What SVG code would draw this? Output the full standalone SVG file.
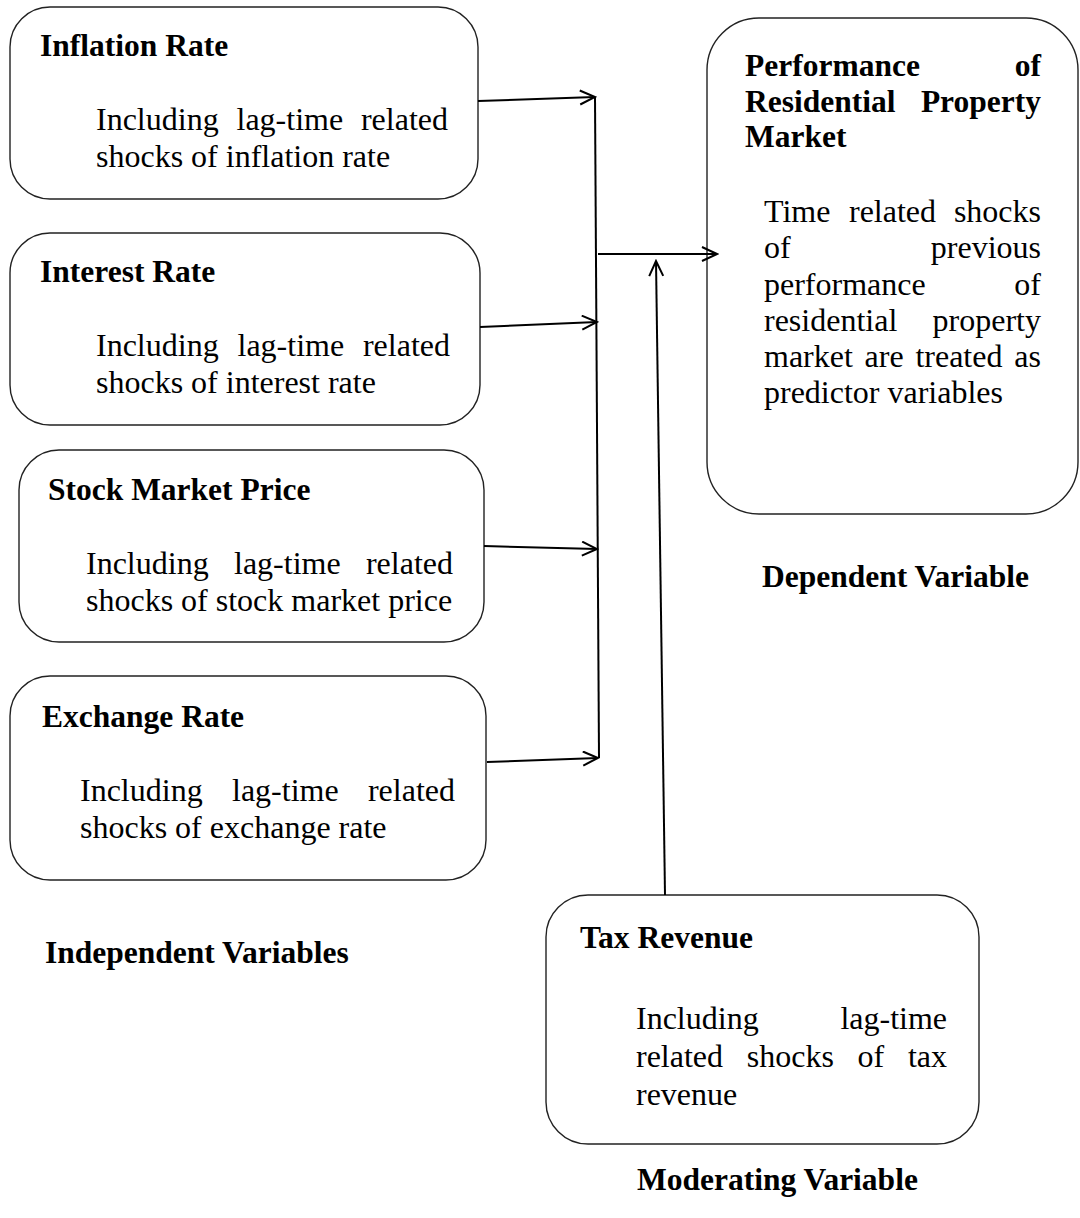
<svg xmlns="http://www.w3.org/2000/svg" width="1080" height="1218" viewBox="0 0 1080 1218">
<defs>
<style>
.box{fill:#fff;stroke:#222;stroke-width:1.4}
.t{font-family:"Liberation Serif","Times New Roman",serif;font-size:31.5px;font-weight:bold;fill:#000}
.b{font-family:"Liberation Serif","Times New Roman",serif;font-size:32px;fill:#000}
.c{fill:none;stroke:#000;stroke-width:2}
</style>
<marker id="ah" markerWidth="18" markerHeight="18" refX="16" refY="8" orient="auto" markerUnits="userSpaceOnUse">
<path d="M1,1 L16,8 L1,15" fill="none" stroke="#000" stroke-width="2"/>
</marker>
</defs>
<rect width="1080" height="1218" fill="#fff"/>

<g id="inflation">
<rect class="box" x="10" y="7" width="468" height="192" rx="40"/>
<text class="t" x="40" y="56">Inflation Rate</text>
<text class="b" y="130"><tspan x="96">Including</tspan><tspan x="236.5">lag-time</tspan><tspan x="448" text-anchor="end">related</tspan></text>
<text class="b" x="96" y="167">shocks of inflation rate</text>
</g>

<g id="interest">
<rect class="box" x="10" y="233" width="470" height="192" rx="40"/>
<text class="t" x="40" y="282">Interest Rate</text>
<text class="b" y="356"><tspan x="96">Including</tspan><tspan x="237.5">lag-time</tspan><tspan x="450" text-anchor="end">related</tspan></text>
<text class="b" x="96" y="393">shocks of interest rate</text>
</g>

<g id="stock">
<rect class="box" x="19" y="450" width="465" height="192" rx="40"/>
<text class="t" x="48" y="500">Stock Market Price</text>
<text class="b" y="574"><tspan x="86">Including</tspan><tspan x="234">lag-time</tspan><tspan x="453" text-anchor="end">related</tspan></text>
<text class="b" x="86" y="611">shocks of stock market price</text>
</g>

<g id="exchange">
<rect class="box" x="10" y="676" width="476" height="204" rx="40"/>
<text class="t" x="42" y="727">Exchange Rate</text>
<text class="b" y="801"><tspan x="80">Including</tspan><tspan x="232">lag-time</tspan><tspan x="455" text-anchor="end">related</tspan></text>
<text class="b" x="80" y="838">shocks of exchange rate</text>
</g>

<g id="performance">
<rect class="box" x="707" y="18" width="371" height="496" rx="52"/>
<text class="t" y="76"><tspan x="745">Performance</tspan><tspan x="1041" text-anchor="end">of</tspan></text>
<text class="t" y="112"><tspan x="745">Residential</tspan><tspan x="1041" text-anchor="end">Property</tspan></text>
<text class="t" x="745" y="147">Market</text>
<text class="b" y="222"><tspan x="764">Time</tspan><tspan x="849">related</tspan><tspan x="1041" text-anchor="end">shocks</tspan></text>
<text class="b" y="258"><tspan x="764">of</tspan><tspan x="1041" text-anchor="end">previous</tspan></text>
<text class="b" y="295"><tspan x="764">performance</tspan><tspan x="1041" text-anchor="end">of</tspan></text>
<text class="b" y="331"><tspan x="764">residential</tspan><tspan x="1041" text-anchor="end">property</tspan></text>
<text class="b" y="367"><tspan x="764">market</tspan><tspan x="864.6">are</tspan><tspan x="915.4">treated</tspan><tspan x="1041" text-anchor="end">as</tspan></text>
<text class="b" x="764" y="403">predictor variables</text>
</g>

<g id="tax">
<rect class="box" x="546" y="895" width="433" height="249" rx="42"/>
<text class="t" x="580" y="948">Tax Revenue</text>
<text class="b" y="1029"><tspan x="636">Including</tspan><tspan x="947" text-anchor="end">lag-time</tspan></text>
<text class="b" y="1067"><tspan x="636">related</tspan><tspan x="746.8">shocks</tspan><tspan x="857.6">of</tspan><tspan x="947" text-anchor="end">tax</tspan></text>
<text class="b" x="636" y="1105">revenue</text>
</g>

<g id="labels">
<text class="t" x="762" y="587">Dependent Variable</text>
<text class="t" x="45" y="963">Independent Variables</text>
<text class="t" x="637" y="1190">Moderating Variable</text>
</g>

<g id="connectors">
<line class="c" x1="478" y1="101" x2="595" y2="97" marker-end="url(#ah)"/>
<line class="c" x1="480" y1="327" x2="597" y2="322" marker-end="url(#ah)"/>
<line class="c" x1="484" y1="546" x2="597" y2="549" marker-end="url(#ah)"/>
<line class="c" x1="487" y1="762" x2="598" y2="758" marker-end="url(#ah)"/>
<line class="c" x1="595" y1="97" x2="599" y2="758"/>
<line class="c" x1="598" y1="254" x2="717" y2="254" marker-end="url(#ah)"/>
<line class="c" x1="665" y1="895" x2="656" y2="261" marker-end="url(#ah)"/>
</g>
</svg>
